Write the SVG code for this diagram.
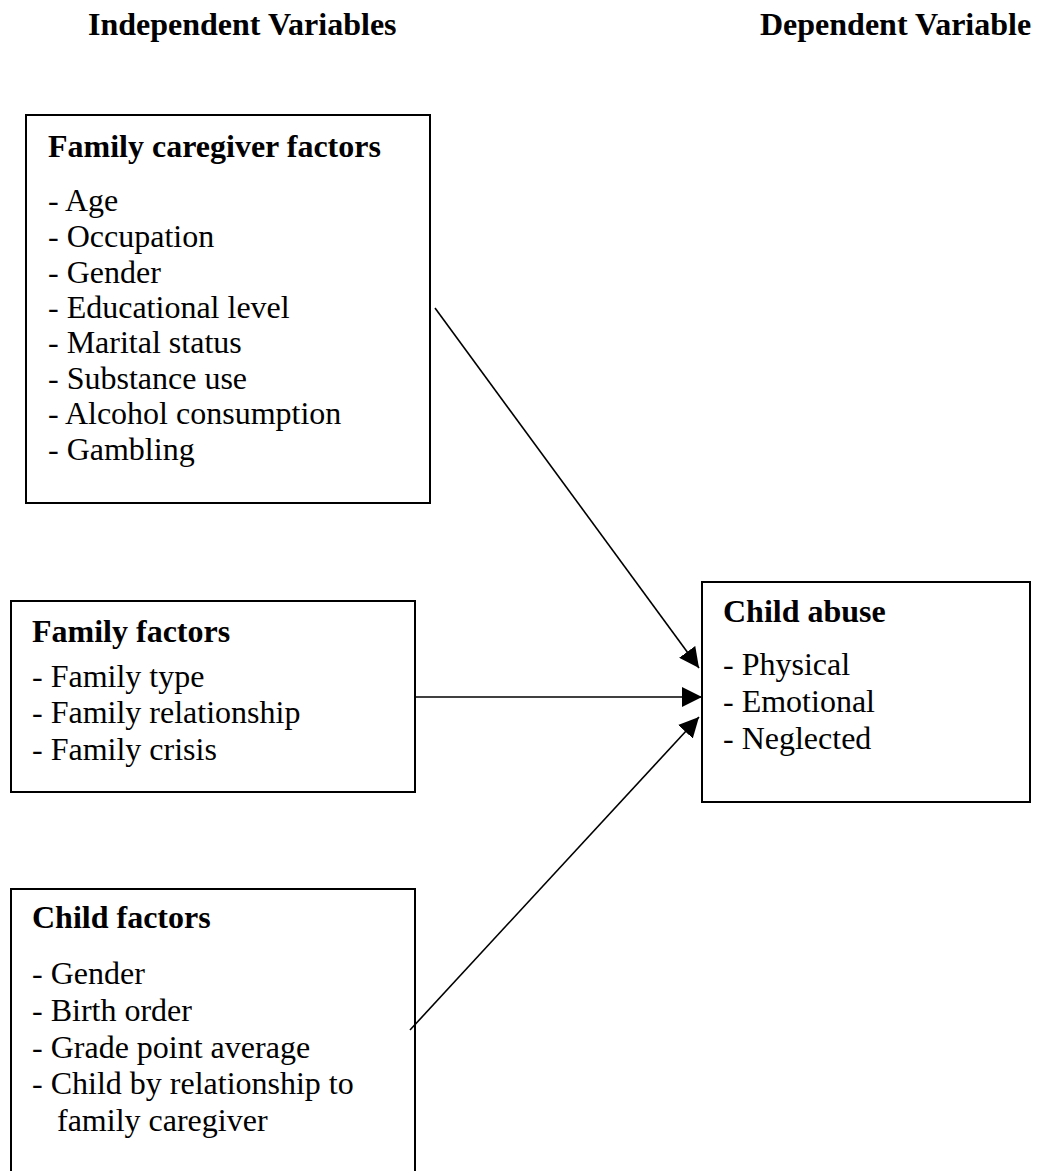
<svg xmlns="http://www.w3.org/2000/svg" width="1042" height="1171" viewBox="0 0 1042 1171">
<style>
text{font-family:"Liberation Serif","Times New Roman",serif;font-size:32px;fill:#000}
.b{font-weight:bold}
.box{fill:#fff;stroke:#000;stroke-width:2}
.conn{stroke:#000;stroke-width:1.6;fill:none}
</style>
<defs>
<marker id="ah" markerUnits="userSpaceOnUse" markerWidth="20" markerHeight="20" refX="20" refY="10" orient="auto" viewBox="0 0 20 20">
<path d="M0,0 L20,10 L0,20 z" fill="#000"/>
</marker>
</defs>
<rect width="1042" height="1171" fill="#fff"/>
<g id="headers">
<text class="b" x="88" y="35">Independent Variables</text>
<text class="b" x="760" y="35">Dependent Variable</text>
</g>
<g id="node-caregiver">
<rect class="box" x="26" y="115" width="404" height="388"/>
<text class="b" x="48" y="157">Family caregiver factors</text>
<text x="48" y="211">- Age</text>
<text x="48" y="247">- Occupation</text>
<text x="48" y="283">- Gender</text>
<text x="48" y="318">- Educational level</text>
<text x="48" y="353">- Marital status</text>
<text x="48" y="389">- Substance use</text>
<text x="48" y="424">- Alcohol consumption</text>
<text x="48" y="460">- Gambling</text>
</g>
<g id="node-family">
<rect class="box" x="11" y="601" width="404" height="191"/>
<text class="b" x="32" y="642">Family factors</text>
<text x="32" y="687">- Family type</text>
<text x="32" y="723">- Family relationship</text>
<text x="32" y="760">- Family crisis</text>
</g>
<g id="node-child">
<rect class="box" x="11" y="889" width="404" height="300"/>
<text class="b" x="32" y="928">Child factors</text>
<text x="32" y="984">- Gender</text>
<text x="32" y="1021">- Birth order</text>
<text x="32" y="1058">- Grade point average</text>
<text x="32" y="1094">- Child by relationship to</text>
<text x="57" y="1131">family caregiver</text>
</g>
<g id="node-abuse">
<rect class="box" x="702" y="582" width="328" height="220"/>
<text class="b" x="723" y="622">Child abuse</text>
<text x="723" y="675">- Physical</text>
<text x="723" y="712">- Emotional</text>
<text x="723" y="749">- Neglected</text>
</g>
<g id="connectors">
<line class="conn" x1="435" y1="308" x2="699" y2="668" marker-end="url(#ah)"/>
<line class="conn" x1="415" y1="697" x2="702" y2="697" marker-end="url(#ah)"/>
<line class="conn" x1="410" y1="1030" x2="699" y2="717" marker-end="url(#ah)"/>
</g>
</svg>
